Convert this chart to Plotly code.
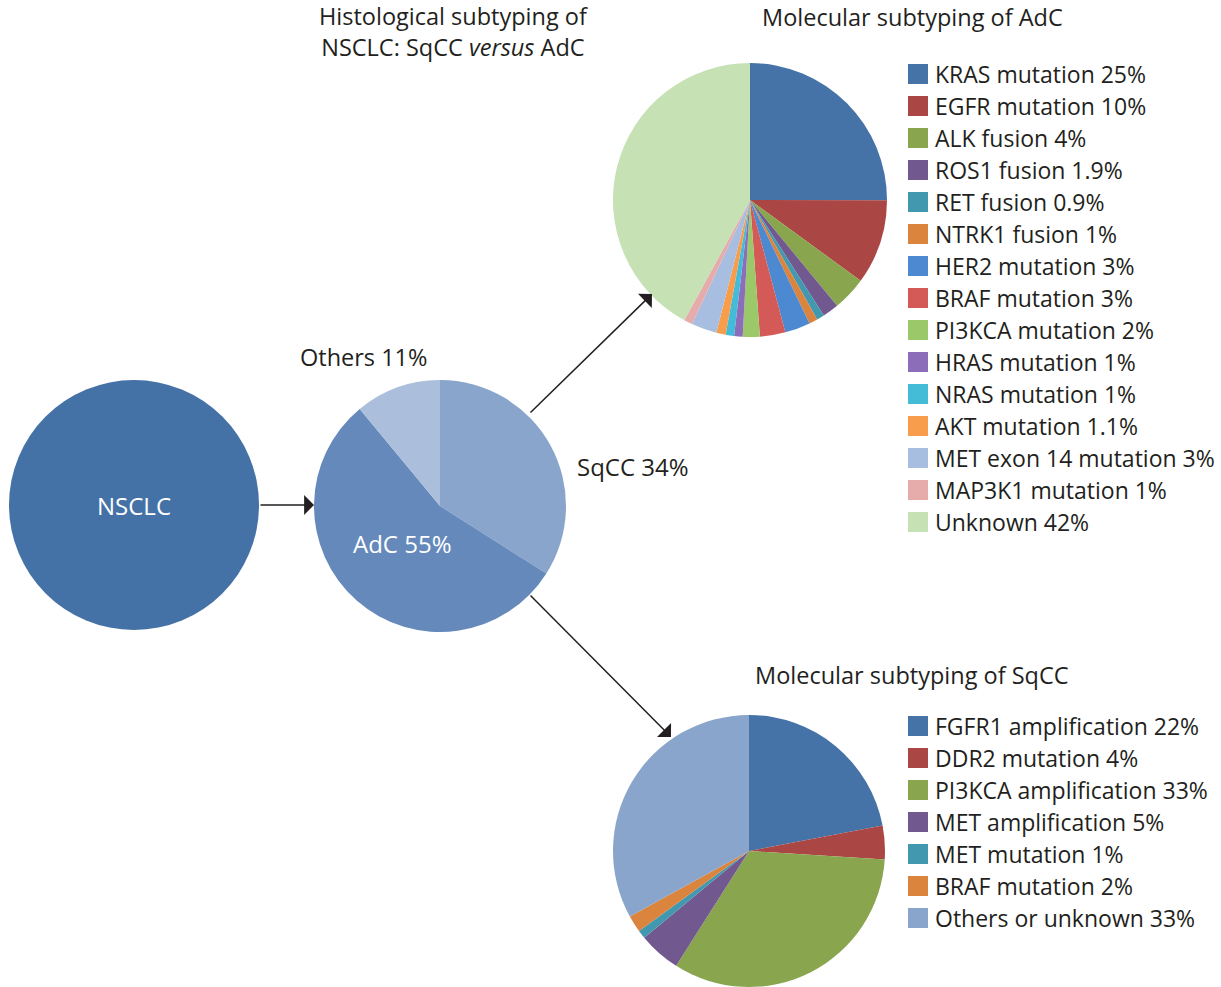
import plotly.graph_objects as go

W, H = 1221, 987
FONT = "Open Sans"
INK = "#231f20"

# --- data -------------------------------------------------------------
nsclc_label = ["NSCLC"]
nsclc_value = [100]

histo_labels = ["SqCC", "AdC", "Others"]
histo_values = [34, 55, 11]

adc_labels = ["KRAS mutation", "EGFR mutation", "ALK fusion", "ROS1 fusion",
              "RET fusion", "NTRK1 fusion", "HER2 mutation", "BRAF mutation",
              "PI3KCA mutation", "HRAS mutation", "NRAS mutation", "AKT mutation",
              "MET exon 14 mutation", "MAP3K1 mutation", "Unknown"]
adc_values = [25, 10, 4, 1.9, 0.9, 1, 3, 3, 2, 1, 1, 1.1, 3, 1, 42]

sqcc_labels = ["FGFR1 amplification", "DDR2 mutation", "PI3KCA amplification",
               "MET amplification", "MET mutation", "BRAF mutation",
               "Others or unknown"]
sqcc_values = [22, 4, 33, 5, 1, 2, 33]

# --- colours ----------------------------------------------------------
nsclc_color = ["#4572a6"]
histo_colors = ["#89a5cb", "#6589bb", "#abbedb"]
adc_colors = ["#4572a7", "#aa4643", "#89a54e", "#71588f", "#4198af",
              "#db843d", "#4d89d1", "#d35a57", "#9bc868", "#8c6dba",
              "#44bcd8", "#f79d4c", "#a8bee0", "#e6abab", "#c6e1b4"]
sqcc_colors = ["#4572a7", "#aa4643", "#89a54e", "#71588f", "#4198af",
               "#db843d", "#89a5cb"]


def px(x):
    return x / W


def py(y):
    return 1 - y / H


def domain(cx, cy, r):
    return dict(x=[px(cx - r), px(cx + r)], y=[py(cy + r), py(cy - r)])


def fmt(v):
    return f"{v:g}%"


fig = go.Figure()

pie_common = dict(sort=False, direction="clockwise", rotation=0,
                  showlegend=False, hoverinfo="label+value",
                  marker_line_width=0)

fig.add_trace(go.Pie(labels=nsclc_label, values=nsclc_value,
                     marker_colors=nsclc_color, domain=domain(134, 505, 125),
                     textinfo="label", textposition="inside",
                     insidetextfont=dict(family=FONT, size=24, color="white"),
                     **pie_common))
fig.add_trace(go.Pie(labels=histo_labels, values=histo_values,
                     marker_colors=histo_colors, domain=domain(440, 506, 126),
                     textinfo="none", **pie_common))
fig.add_trace(go.Pie(labels=adc_labels, values=adc_values,
                     marker_colors=adc_colors, domain=domain(750, 200, 137),
                     textinfo="none", **pie_common))
fig.add_trace(go.Pie(labels=sqcc_labels, values=sqcc_values,
                     marker_colors=sqcc_colors, domain=domain(749, 851, 136),
                     textinfo="none", **pie_common))

annotations = []
shapes = []


def text(x, y, s, size=22, color=INK, anchor="center"):
    annotations.append(dict(x=px(x), y=py(y), xref="paper", yref="paper",
                            text=s, showarrow=False, xanchor=anchor,
                            yanchor="middle",
                            font=dict(family=FONT, size=size, color=color)))


# titles
text(453, 32, "Histological subtyping of<br>NSCLC: SqCC <i>versus</i> AdC", size=23.5)
text(912, 17, "Molecular subtyping of AdC", size=23.5)
text(912, 675, "Molecular subtyping of SqCC", size=23.5)

# histology slice labels
text(363, 357, f"{histo_labels[2]} {fmt(histo_values[2])}", size=23.5)
text(633, 466, f"{histo_labels[0]} {fmt(histo_values[0])}", size=24)
text(402, 543, f"{histo_labels[1]} {fmt(histo_values[1])}", size=24, color="white")


# legends: coloured square + label per slice
def legend(labels, values, colors, x0, y0, step=32, box=20):
    for i, (lab, val, col) in enumerate(zip(labels, values, colors)):
        yc = y0 + i * step
        shapes.append(dict(type="rect", xref="paper", yref="paper",
                           x0=px(x0), x1=px(x0 + box),
                           y0=py(yc + box / 2), y1=py(yc - box / 2),
                           fillcolor=col, line_width=0))
        text(x0 + box + 5, yc, f"{lab} {fmt(val)}", size=23, anchor="left")


legend(adc_labels, adc_values, adc_colors, 908, 74)
legend(sqcc_labels, sqcc_values, sqcc_colors, 908, 726)


# arrows between the circles
def arrow(x_tail, y_tail, x_head, y_head):
    annotations.append(dict(x=px(x_head), y=py(y_head), xref="paper",
                            yref="paper", ax=x_tail - x_head,
                            ay=y_tail - y_head, axref="pixel", ayref="pixel",
                            text="", showarrow=True, arrowhead=1,
                            arrowsize=2.2, arrowwidth=1.5, arrowcolor=INK))


arrow(259, 505, 314, 505)
arrow(529, 414, 652, 294)
arrow(529, 594, 671, 737)

fig.update_layout(width=W, height=H, margin=dict(l=0, r=0, t=0, b=0),
                  paper_bgcolor="white", plot_bgcolor="white",
                  annotations=annotations, shapes=shapes,
                  font=dict(family=FONT, color=INK))

fig.write_html("out.html")
